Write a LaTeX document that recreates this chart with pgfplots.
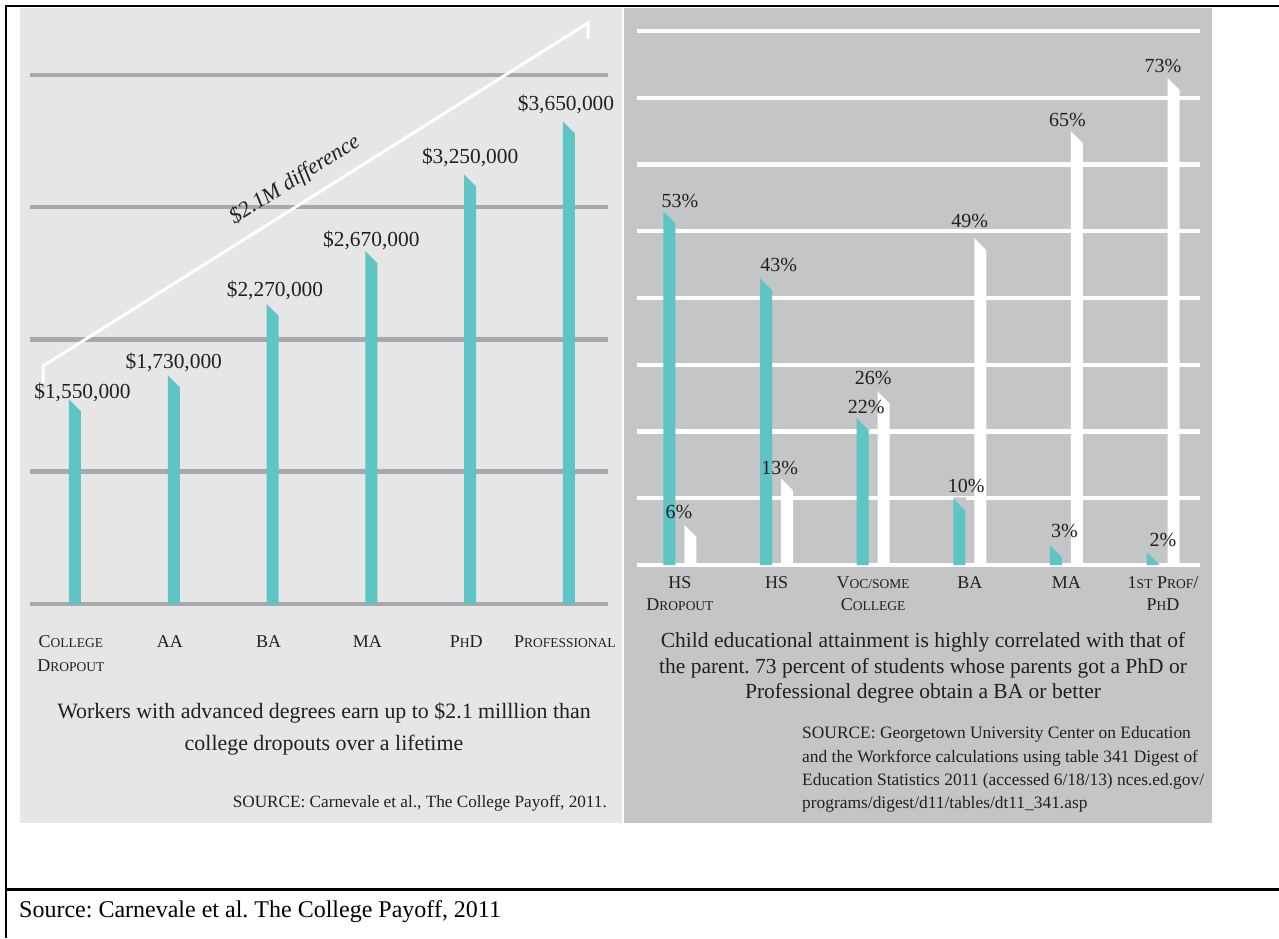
\documentclass[border=0pt]{standalone}
\usepackage{pgfplots}
\usepackage{pgfplotstable}
\pgfplotsset{compat=1.18}
\usepackage{fontspec}
\setmainfont{Liberation Serif}
\frenchspacing
\definecolor{leftbg}{RGB}{230,230,230}
\definecolor{rightbg}{RGB}{196,197,199}
\definecolor{gridgray}{RGB}{167,168,172}
\definecolor{tealbar}{RGB}{94,196,196}
\definecolor{ink}{RGB}{35,31,32}
\newcommand\fs[1]{{\fontsize{13.5}{13.5}\selectfont #1}}
\newcommand\fsz[2]{\fontsize{#1}{#2}\selectfont}
% two-line tick label whose baseline is that of its first line
\newcommand\tl[2]{\begin{tabular}[t]{@{}c@{}}#1\\#2\end{tabular}}
% slanted bar top: cover the top-right corner with the background colour
\newcommand\declnotch[2]{\pgfdeclareplotmark{#1}{%
  \pgfpathmoveto{\pgfpoint{#2pt-6pt}{0pt}}%
  \pgfpathlineto{\pgfpoint{#2pt-6pt}{0.8pt}}%
  \pgfpathlineto{\pgfpoint{#2pt+6.8pt}{0.8pt}}%
  \pgfpathlineto{\pgfpoint{#2pt+6.8pt}{-12.8pt}}%
  \pgfpathclose\pgfusepathqfill}}
\declnotch{notchC}{0}
\declnotch{notchL}{-10.5}
\declnotch{notchR}{10.5}
\pgfplotsset{/pgf/number format/assume math mode=true}

\pgfplotstableread{
x y dx dy
0 1550000 7.5 1
1 1730000 0 7
2 2270000 2.4 7
3 2670000 0 4
4 3250000 0 11
5 3650000 -3 11
}\earnings
\pgfplotstableread{
x y dx dy
0 53 0 4
1 43 2 6
2 22 -7 5
3 10 -3.5 6
4 3 -2 7
5 2 0 5
}\childteal
\pgfplotstableread{
x y dx dy
0 6 -1 6
1 13 3 4
2 26 0 6.5
3 49 0 10
4 65 1 5
5 73 0 5
}\childwhite

\begin{document}
\begin{tikzpicture}
% panel backgrounds
\fill[leftbg] (20pt,115pt) rectangle (622pt,930pt);
\fill[rightbg] (623.5pt,115pt) rectangle (1212pt,930pt);
% frame
\draw[black, line width=2.2pt] (6pt,933pt) -- (6pt,0pt);
\draw[black, line width=2.3pt] (4.9pt,931.7pt) -- (1279pt,931.7pt);
\draw[black, line width=2.5pt] (4.9pt,48.5pt) -- (1279pt,48.5pt);

% ---------------- left chart ----------------
\begin{axis}[
  at={(30pt,334pt)}, anchor=south west, scale only axis,
  width=578pt, height=529pt,
  xmin=-0.455, xmax=5.395, ymin=0, ymax=4000000,
  axis line style={draw=none}, major tick length=0pt,
  scaled y ticks=false,
  ytick={0,1000000,2000000,3000000,4000000}, yticklabels={},
  ymajorgrids, grid style={gridgray, line width=4.5pt},
  xtick={0,...,5},
  xticklabels={{\tl{C\fs{OLLEGE}}{D\fs{ROPOUT}}}, AA, BA, MA, {P\fs{H}D}, {P\fs{ROFESSIONAL}}},
  xticklabel style={font=\fsz{18}{24}, text=ink, anchor=base, inner sep=0pt, yshift=-43pt, xshift=-4pt},
]
\addplot[ybar, bar width=12pt, bar shift=0pt, fill=tealbar, draw=none,
  visualization depends on={\thisrow{dx}\as\dx},
  visualization depends on={\thisrow{dy}\as\dy},
  nodes near coords={\$\pgfmathprintnumber[fixed,precision=0,1000 sep={,}]{\pgfplotspointmeta}},
  every node near coord/.append style={font=\fsz{21.4}{21.4}, text=ink, anchor=base, inner sep=0pt, xshift=\dx pt, yshift=\dy pt},
] table[x=x, y=y] {\earnings};
\addplot[only marks, mark=notchC, color=leftbg, mark options={fill=leftbg}] table[x=x, y=y] {\earnings};
\end{axis}

% annotation line and text
\draw[white, line width=3pt] (43pt,555pt) -- (43pt,572pt) -- (588pt,915pt) -- (588pt,899pt);
\node[rotate=32.2, font=\fsz{22}{22}\itshape, text=ink, inner sep=0pt] at (294.8pt,758pt) {\$2.1M difference};

% left captions
\node[anchor=base, font=\fsz{21.9}{21.9}, text=ink, inner sep=0pt] at (324pt,220pt) {Workers with advanced degrees earn up to \$2.1 milllion than};
\node[anchor=base, font=\fsz{21.9}{21.9}, text=ink, inner sep=0pt] at (324pt,188pt) {college dropouts over a lifetime};
\node[anchor=base east, font=\fsz{17.2}{17.2}, text=ink, inner sep=0pt] at (607pt,131pt) {SOURCE: Carnevale et al., The College Payoff, 2011.};

% ---------------- right chart ----------------
\begin{axis}[
  at={(637pt,373pt)}, anchor=south west, scale only axis,
  width=563pt, height=534pt,
  xmin=-0.445, xmax=5.383, ymin=0, ymax=80,
  axis line style={draw=none}, major tick length=0pt,
  ytick={0,10,...,80}, yticklabels={},
  ymajorgrids, grid style={white, line width=4.3pt},
  xtick={0,...,5},
  xticklabels={{\tl{HS}{D\fs{ROPOUT}}}, HS, {\tl{V\fs{OC/SOME}}{C\fs{OLLEGE}}}, BA, MA, {\tl{1\fs{ST} P\fs{ROF}/}{P\fs{H}D}}},
  xticklabel style={font=\fsz{18}{22}, text=ink, anchor=base, inner sep=0pt, yshift=-23pt},
]
\addplot[ybar, bar width=12pt, bar shift=-10.5pt, fill=tealbar, draw=none,
  visualization depends on={\thisrow{dx}\as\dx},
  visualization depends on={\thisrow{dy}\as\dy},
  nodes near coords={\pgfmathprintnumber{\pgfplotspointmeta}\%},
  every node near coord/.append style={font=\fsz{20}{20}, text=ink, anchor=base, inner sep=0pt, xshift=\dx pt, yshift=\dy pt},
] table[x=x, y=y] {\childteal};
\addplot[ybar, bar width=12pt, bar shift=10.5pt, fill=white, draw=none,
  visualization depends on={\thisrow{dx}\as\dx},
  visualization depends on={\thisrow{dy}\as\dy},
  nodes near coords={\pgfmathprintnumber{\pgfplotspointmeta}\%},
  every node near coord/.append style={font=\fsz{20}{20}, text=ink, anchor=base, inner sep=0pt, xshift=\dx pt, yshift=\dy pt},
] table[x=x, y=y] {\childwhite};
\addplot[only marks, mark=notchL, color=rightbg, mark options={fill=rightbg}] table[x=x, y=y] {\childteal};
\addplot[only marks, mark=notchR, color=rightbg, mark options={fill=rightbg}] table[x=x, y=y] {\childwhite};
\end{axis}

% right captions
\node[anchor=base, font=\fsz{21.5}{21.5}, text=ink, inner sep=0pt] at (923pt,291pt) {Child educational attainment is highly correlated with that of};
\node[anchor=base, font=\fsz{21.5}{21.5}, text=ink, inner sep=0pt] at (923pt,265pt) {the parent. 73 percent of students whose parents got a PhD or};
\node[anchor=base, font=\fsz{21.5}{21.5}, text=ink, inner sep=0pt] at (923pt,240pt) {Professional degree obtain a BA or better};
\node[anchor=base west, font=\fsz{17.4}{17.4}, text=ink, inner sep=0pt] at (802pt,200pt) {SOURCE: Georgetown University Center on Education};
\node[anchor=base west, font=\fsz{17.4}{17.4}, text=ink, inner sep=0pt] at (802pt,176pt) {and the Workforce calculations using table 341 Digest of};
\node[anchor=base west, font=\fsz{17.4}{17.4}, text=ink, inner sep=0pt] at (802pt,153pt) {Education Statistics 2011 (accessed 6/18/13) nces.ed.gov/};
\node[anchor=base west, font=\fsz{17.4}{17.4}, text=ink, inner sep=0pt] at (802pt,130pt) {programs/digest/d11/tables/dt11\_341.asp};

% bottom source line
\node[anchor=base west, font=\fsz{24}{24}, text=black, inner sep=0pt] at (19pt,21pt) {Source: Carnevale et al. The College Payoff, 2011};

\pgfresetboundingbox
\path[use as bounding box] (0pt,0pt) rectangle (1279pt,938pt);
\end{tikzpicture}
\end{document}
